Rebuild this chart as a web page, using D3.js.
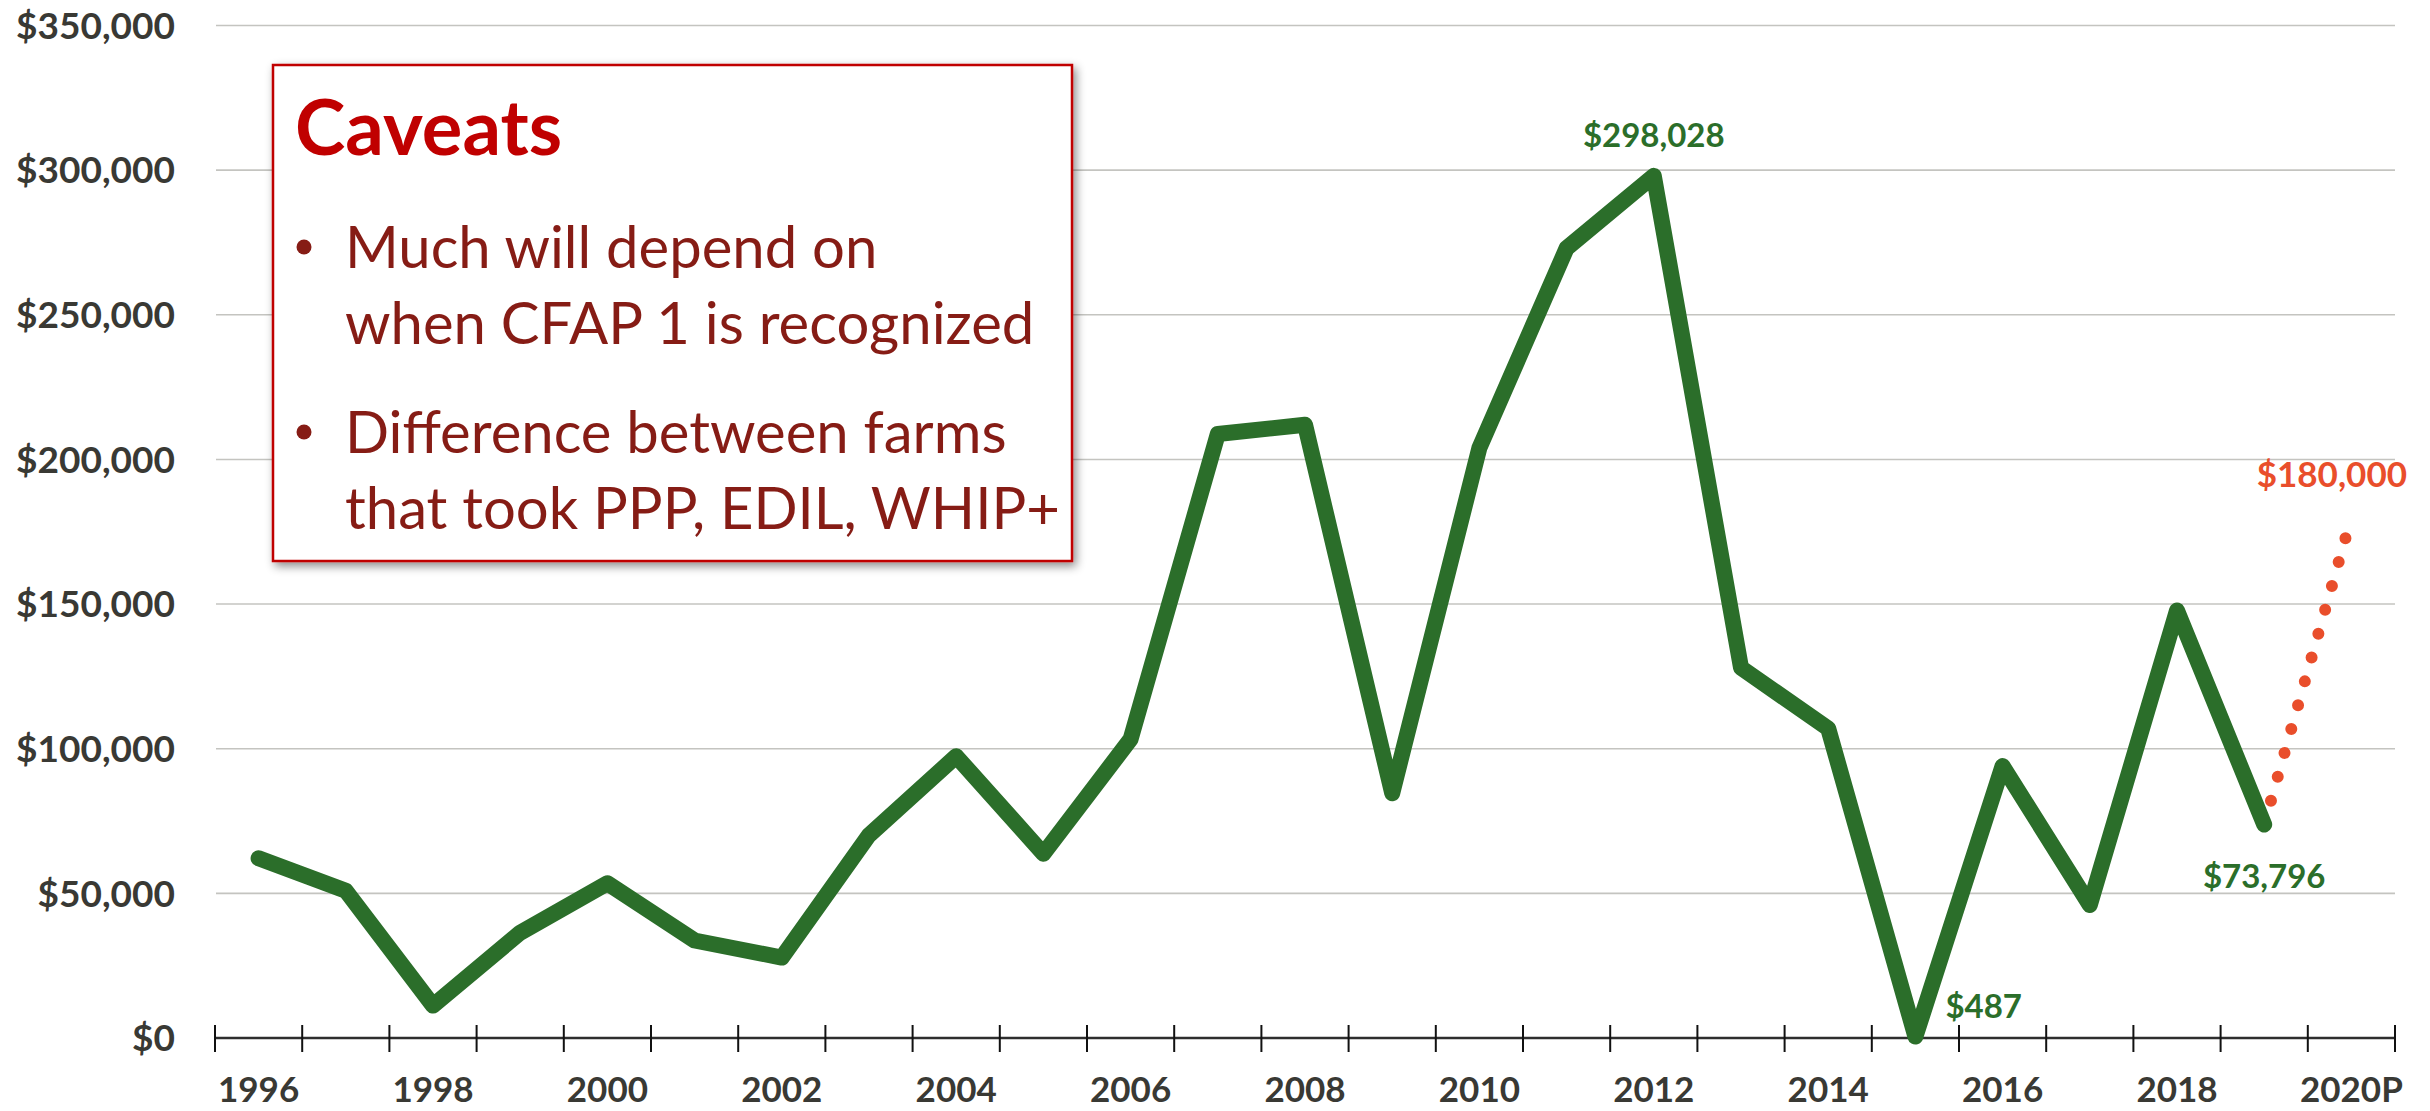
<!DOCTYPE html>
<html>
<head>
<meta charset="utf-8">
<script src="https://cdn.jsdelivr.net/npm/d3@7"></script>
<style>
	html, body { margin: 0; padding: 0; background: #ffffff; }
	svg { display: block; font-family: Lato, "Open Sans", sans-serif; }
</style>
</head>
<body>
<div id="main"></div>
<script>
// farm income series
var years = ['1996','1997','1998','1999','2000','2001','2002','2003','2004','2005','2006','2007',
	'2008','2009','2010','2011','2012','2013','2014','2015','2016','2017','2018','2019','2020P'];
var income = [62100, 50900, 11200, 36400, 53500, 33700, 27800, 70100, 97400, 63700, 103300, 208800,
	212000, 84600, 204000, 273000, 298028, 128000, 107000, 487, 94000, 46000, 147800, 73796];
var projection_years = ['2019', '2020P'];
var projection_values = [73796, 180000];
var y_ticks = [0, 50000, 100000, 150000, 200000, 250000, 300000, 350000];
var caveat_title = 'Caveats';
var caveat_bullets = [
	['Much will depend on', 'when CFAP 1 is recognized'],
	['Difference between farms', 'that took PPP, EDIL, WHIP+']
];

var width = 2430, height = 1111;
var green = '#2b6e2a', orange = '#e94e2b', axis_text = '#393934';

var svg = d3.select('#main').append('svg').attr('width', width).attr('height', height);

var x = d3.scaleBand().domain(years).range([215, 2395]).padding(0);
var y = d3.scaleLinear().domain([0, 350000]).range([1038, 25.5]);
var cx = function(year){ return x(year) + x.bandwidth() / 2; };
var money = d3.format('$,');

// gridlines + y labels
svg.append('g').selectAll('line')
	.data(y_ticks.filter(function(d){ return d > 0; })).enter()
	.append('line')
	.attr('x1', 216).attr('x2', 2395)
	.attr('y1', function(d){ return y(d); }).attr('y2', function(d){ return y(d); })
	.attr('stroke', '#c4c4c0').attr('stroke-width', 1.6);

svg.append('g').selectAll('text')
	.data(y_ticks).enter()
	.append('text')
	.attr('x', 175).attr('y', function(d){ return y(d); })
	.attr('dy', '0.36em')
	.attr('text-anchor', 'end')
	.style('font-weight', 'bold').style('font-size', '37px')
	.attr('fill', axis_text)
	.text(function(d){ return money(d); });

// category axis, ticks between categories
var bounds = years.map(function(d){ return x(d); }).concat([x.range()[1]]);
svg.append('line')
	.attr('x1', 215).attr('x2', 2395).attr('y1', y(0)).attr('y2', y(0))
	.attr('stroke', '#2e2e2e').attr('stroke-width', 2.5);
svg.append('g').selectAll('line')
	.data(bounds).enter()
	.append('line')
	.attr('x1', function(d){ return d; }).attr('x2', function(d){ return d; })
	.attr('y1', y(0) - 13).attr('y2', y(0) + 14)
	.attr('stroke', '#111').attr('stroke-width', 2);

svg.append('g').selectAll('text')
	.data(years.filter(function(d, i){ return i % 2 == 0; })).enter()
	.append('text')
	.attr('x', function(d){ return cx(d); }).attr('y', 1102)
	.attr('text-anchor', 'middle')
	.style('font-weight', 'bold').style('font-size', '35px')
	.attr('fill', axis_text)
	.text(function(d){ return d; });

var line = d3.line()
	.x(function(d){ return cx(d.year); })
	.y(function(d){ return y(d.value); });

// projection, dotted (drawn first so the green end covers its first dot)
var proj = projection_values.map(function(v, i){ return {year: projection_years[i], value: v}; });
svg.append('path')
	.datum(proj)
	.attr('d', line)
	.attr('fill', 'none')
	.attr('stroke', orange).attr('stroke-width', 12)
	.attr('stroke-linecap', 'round')
	.attr('stroke-dasharray', '0 24.8');

// actual series
var actual = income.map(function(v, i){ return {year: years[i], value: v}; });
svg.append('path')
	.datum(actual)
	.attr('d', line)
	.attr('fill', 'none')
	.attr('stroke', green).attr('stroke-width', 16)
	.attr('stroke-linejoin', 'round').attr('stroke-linecap', 'round');

// point labels
var lab = function(d){ return actual[years.indexOf(d)]; };
var p2012 = lab('2012'), p2015 = lab('2015'), p2019 = lab('2019');
svg.append('text')
	.attr('x', cx(p2012.year)).attr('y', y(p2012.value) - 29)
	.attr('text-anchor', 'middle')
	.style('font-weight', 'bold').style('font-size', '33px')
	.attr('fill', green).text(money(p2012.value));
svg.append('text')
	.attr('x', cx(p2015.year) + 30).attr('y', y(p2015.value) - 19)
	.attr('text-anchor', 'start')
	.style('font-weight', 'bold').style('font-size', '33px')
	.attr('fill', green).text(money(p2015.value));
svg.append('text')
	.attr('x', cx(p2019.year)).attr('y', y(p2019.value) + 63)
	.attr('text-anchor', 'middle')
	.style('font-weight', 'bold').style('font-size', '33px')
	.attr('fill', green).text(money(p2019.value));
svg.append('text')
	.attr('x', 2407).attr('y', 487)
	.attr('text-anchor', 'end')
	.style('font-weight', 'bold').style('font-size', '35px')
	.attr('fill', orange).text(money(projection_values[1]));

// caveats box
var defs = svg.append('defs');
defs.append('filter').attr('id', 'shadow')
	.attr('x', '-10%').attr('y', '-10%').attr('width', '120%').attr('height', '120%')
	.append('feDropShadow')
	.attr('dx', 3).attr('dy', 4).attr('stdDeviation', 5)
	.attr('flood-color', '#000').attr('flood-opacity', 0.45);

var box = svg.append('g');
box.append('rect')
	.attr('x', 273).attr('y', 65).attr('width', 799).attr('height', 496)
	.attr('fill', '#fff').attr('stroke', '#c00000').attr('stroke-width', 2.5)
	.attr('filter', 'url(#shadow)');
box.append('text')
	.attr('x', 295).attr('y', 155)
	.style('font-weight', 'bold').style('font-size', '76px')
	.attr('fill', '#c00000').text(caveat_title);

var bullet_top = [268, 453];
caveat_bullets.forEach(function(lines, i){
	box.append('circle')
		.attr('cx', 304).attr('cy', bullet_top[i] - 21).attr('r', 7.5)
		.attr('fill', '#861c15');
	box.selectAll(null)
		.data(lines).enter()
		.append('text')
		.attr('x', 345).attr('y', function(d, j){ return bullet_top[i] + j * 76; })
		.style('font-size', '58px')
		.attr('fill', '#861c15')
		.text(function(d){ return d; });
});
</script>
</body>
</html>
